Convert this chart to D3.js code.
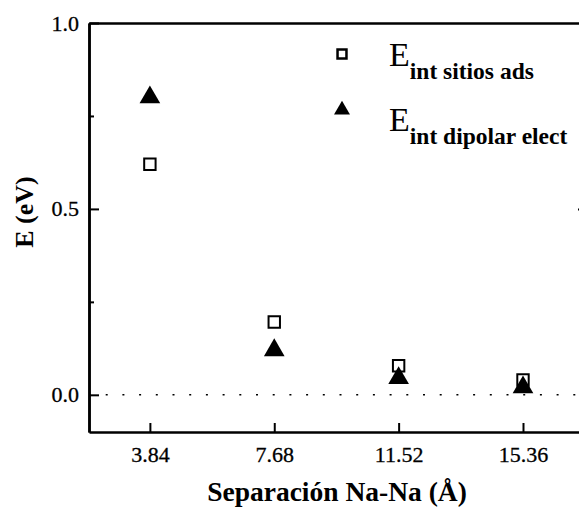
<!DOCTYPE html>
<html>
<head>
<meta charset="utf-8">
<script src="https://cdn.jsdelivr.net/npm/d3@7"></script>
<style>
  body { margin: 0; background: #fff; }
  text { font-family: "Liberation Serif", "Times New Roman", serif; fill: #000; }
</style>
</head>
<body>
<div class="chart"></div>
<script>
// data
var separations = [3.84, 7.68, 11.52, 15.36];
var sitiosAds = [0.62, 0.196, 0.078, 0.04];
var dipolarElect = [0.80, 0.12, 0.045, 0.02];
var xTicks = [3.84, 7.68, 11.52, 15.36];
var xTickLabels = ["3.84", "7.68", "11.52", "15.36"];
var yTicks = [0.0, 0.5, 1.0];
var yMinorTicks = [0.25, 0.75];
var legendLabels = ["sitios ads", "dipolar elect"];

var WIDTH = 579, HEIGHT = 508;
var margin = { top: 23, right: -1, bottom: 76, left: 89 },
    width = WIDTH - margin.left - margin.right,
    height = HEIGHT - margin.top - margin.bottom;

var serif = "'Liberation Serif', 'Times New Roman', serif";

var xScale = d3.scaleLinear()
    .domain([1.96, 17.12])
    .range([0, width]);

var yScale = d3.scaleLinear()
    .domain([-0.1, 1.0])
    .range([height, 0]);

var svg = d3.select('.chart').append("svg")
    .attr('width', WIDTH)
    .attr('height', HEIGHT);

var g = svg.append("g")
    .attr("transform", "translate(" + margin.left + "," + margin.top + ")");

// dotted zero line
g.append("line")
    .attr("x1", 0).attr("x2", width)
    .attr("y1", yScale(0)).attr("y2", yScale(0))
    .attr("stroke", "#000")
    .attr("stroke-width", 1.5)
    .attr("stroke-dasharray", "2,14.7");

// axes, ticks inward
var xAxis = d3.axisBottom(xScale)
    .tickValues(xTicks)
    .tickFormat(function (d, i) { return xTickLabels[i]; })
    .tickSizeInner(-9).tickSizeOuter(0).tickPadding(14);
g.append("g")
    .attr("transform", "translate(0," + height + ")")
    .call(xAxis);

var yAxis = d3.axisLeft(yScale)
    .tickValues(yTicks)
    .tickFormat(d3.format(".1f"))
    .tickSizeInner(-10).tickSizeOuter(0).tickPadding(10);
g.append("g").call(yAxis);

g.append("g")
    .call(d3.axisLeft(yScale).tickValues(yMinorTicks).tickFormat("").tickSizeInner(-5).tickSizeOuter(0));

// top and right frame (right one sits just past the edge)
g.append("g")
    .call(d3.axisTop(xScale).tickValues([]).tickSizeOuter(0));
g.append("g")
    .attr("transform", "translate(" + (width + 8) + ",0)")
    .call(d3.axisRight(yScale).tickValues([0.5]).tickFormat("").tickSizeInner(-10).tickSizeOuter(0));

g.selectAll(".domain").attr("stroke-width", 2.5);
g.selectAll(".tick line").attr("stroke-width", 2);
g.selectAll("g").attr("font-family", serif);
g.selectAll(".tick text")
    .style("font-size", "22px")
    .style("font-family", serif)
    .attr("stroke", "#000")
    .attr("stroke-width", 0.3);

// axis titles
svg.append("text")
    .attr("x", 337)
    .attr("y", 501)
    .style("text-anchor", "middle")
    .style("font-size", "27.5px")
    .style("font-weight", "bold")
    .text("Separación Na-Na (Å)");

svg.append("text")
    .attr("transform", "translate(33," + 212 + ") rotate(-90)")
    .style("text-anchor", "middle")
    .style("font-size", "26px")
    .style("font-weight", "bold")
    .text("E (eV)");

// points
var symSquare = d3.symbol().type(d3.symbolSquare).size(130);
var symTri = d3.symbol().type(d3.symbolTriangle).size(185);

g.selectAll(".sq")
    .data(separations)
    .enter()
    .append("path")
    .attr("class", "sq")
    .attr("d", symSquare)
    .attr("transform", function (d, i) {
        return "translate(" + xScale(d) + "," + yScale(sitiosAds[i]) + ")";
    })
    .attr("fill", "#fff")
    .attr("stroke", "#000")
    .attr("stroke-width", 2);

g.selectAll(".tri")
    .data(separations)
    .enter()
    .append("path")
    .attr("class", "tri")
    .attr("d", symTri)
    .attr("transform", function (d, i) {
        return "translate(" + xScale(d) + "," + yScale(dipolarElect[i]) + ")";
    })
    .attr("fill", "#000");

// legend
var legend = svg.append("g").attr("transform", "translate(342,54)");

legend.append("path")
    .attr("d", d3.symbol().type(d3.symbolSquare).size(80))
    .attr("fill", "#fff").attr("stroke", "#000").attr("stroke-width", 2.5);
legend.append("path")
    .attr("transform", "translate(0,56)")
    .attr("d", d3.symbol().type(d3.symbolTriangle).size(110))
    .attr("fill", "#000");

legendLabels.forEach(function (lab, i) {
    var t = legend.append("text")
        .attr("x", 47)
        .attr("y", 12 + i * 65);
    t.append("tspan")
        .style("font-size", "34px")
        .text("E");
    t.append("tspan")
        .attr("dy", 13)
        .style("font-size", "23.5px")
        .style("font-weight", "bold")
        .text("int " + lab);
});
</script>
</body>
</html>
